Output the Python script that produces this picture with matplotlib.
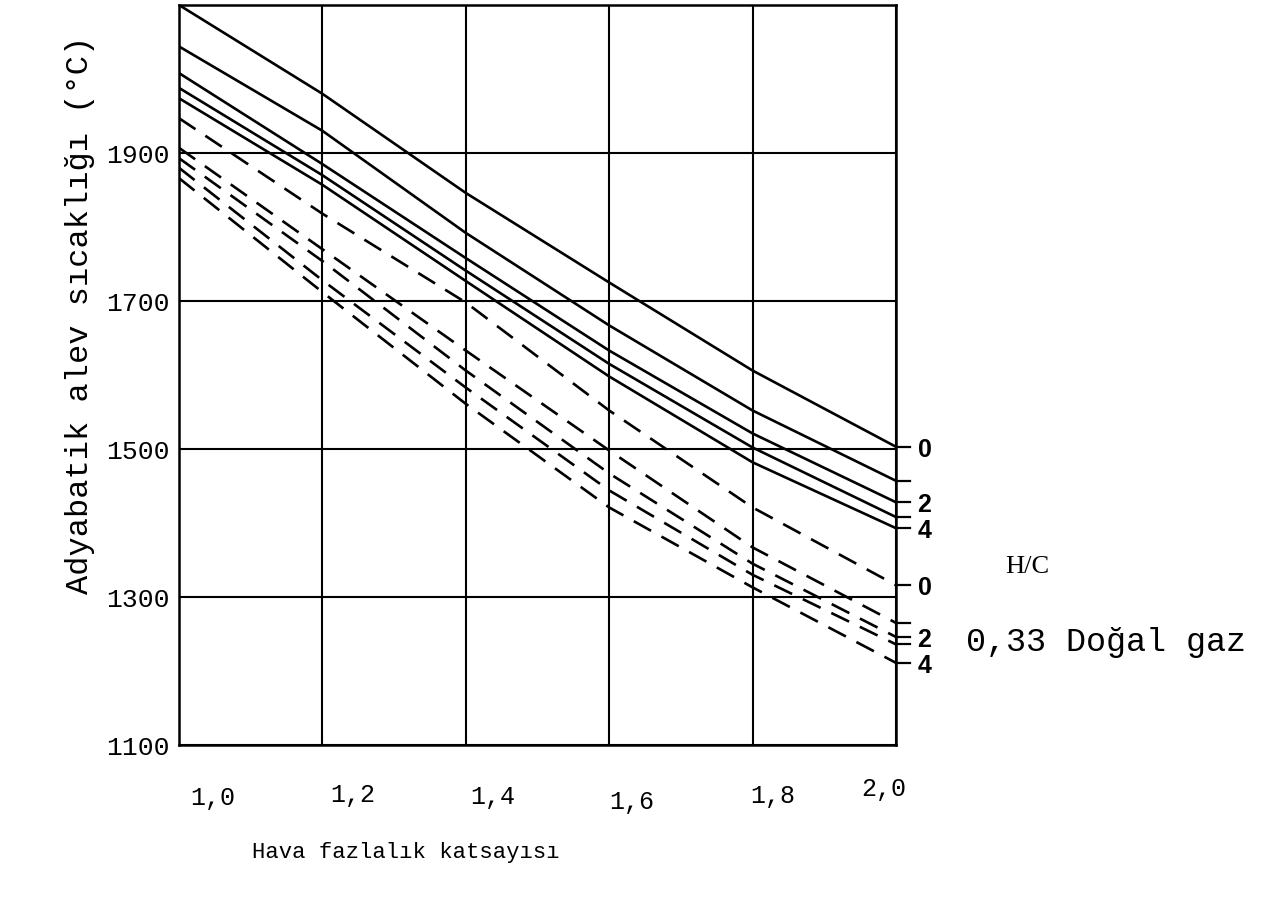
import matplotlib
matplotlib.use("Agg")
import matplotlib.pyplot as plt
import matplotlib.transforms as mtransforms

# ---- data ----
excess_air = [1.0, 1.2, 1.4, 1.6, 1.8, 2.0]
x_tick_labels = ["1,0", "1,2", "1,4", "1,6", "1,8", "2,0"]
y_ticks = [1100, 1300, 1500, 1700, 1900]
y_tick_labels = ["1100", "1300", "1500", "1700", "1900"]
hc_values = ["0", "1", "2", "3", "4"]

# solid family, H/C = 0..4
solid_hc0 = [2100, 1980, 1846, 1725, 1606, 1503]
solid_hc1 = [2044, 1930, 1792, 1667, 1552, 1457]
solid_hc2 = [2008, 1885, 1758, 1633, 1521, 1428]
solid_hc3 = [1988, 1870, 1741, 1615, 1502, 1408]
solid_hc4 = [1974, 1857, 1727, 1598, 1482, 1393]

# dashed family, H/C = 0..4
dashed_hc0 = [1947, 1818, 1698, 1552, 1421, 1316]
dashed_hc1 = [1907, 1770, 1633, 1498, 1367, 1265]
dashed_hc2 = [1893, 1754, 1606, 1467, 1345, 1246]
dashed_hc3 = [1880, 1728, 1583, 1444, 1330, 1236]
dashed_hc4 = [1866, 1712, 1561, 1421, 1313, 1211]

solid_series = [solid_hc0, solid_hc1, solid_hc2, solid_hc3, solid_hc4]
dashed_series = [dashed_hc0, dashed_hc1, dashed_hc2, dashed_hc3, dashed_hc4]

mono = ["Liberation Mono", "DejaVu Sans Mono"]

fig = plt.figure(figsize=(12.70, 9.01), dpi=100)
ax = fig.add_axes([179 / 1270, 1 - 745 / 901, (896 - 179) / 1270, (745 - 5) / 901])

ax.set_xlim(1.0, 2.0)
ax.set_ylim(1100, 2100)

# grid
ax.set_xticks(excess_air)
ax.set_yticks(y_ticks)
ax.grid(True, color="black", linewidth=1.5)
ax.set_axisbelow(True)
for sp in ax.spines.values():
    sp.set_linewidth(1.8)
    sp.set_color("black")
ax.tick_params(length=0)

lw = 1.9
for ys in solid_series:
    ax.plot(excess_air, ys, color="black", linewidth=lw, solid_capstyle="round",
            solid_joinstyle="round")
for ys in dashed_series:
    ax.plot(excess_air, ys, color="black", linewidth=lw, dashes=(7.5, 4.5))

# x tick labels (shifted like the original typewritten labels)
ax.set_xticklabels([])
x_offsets_px = [(34, 53), (30, 50), (27, 52), (23, 57), (20, 51), (-12, 44)]
for xv, lab, (dx, dy) in zip(excess_air, x_tick_labels, x_offsets_px):
    ax.annotate(lab, xy=(xv, 0), xycoords=("data", "axes fraction"),
                xytext=(dx * 0.72, -dy * 0.72), textcoords="offset points",
                ha="center", va="center", fontfamily=mono, fontsize=18)

ax.set_yticklabels(y_tick_labels, fontfamily=mono, fontsize=19)
ax.tick_params(axis="y", pad=7)

ax.set_xlabel("Hava fazlalık katsayısı", fontfamily=mono, fontsize=16)
ax.xaxis.set_label_coords(0.316, -0.131)
ax.set_ylabel("Adyabatik alev sıcaklığı (°C)", fontfamily=mono, fontsize=23)
ax.yaxis.set_label_coords(-0.117, 0.581)

# right-side H/C markers
trans = mtransforms.blended_transform_factory(ax.transAxes, ax.transData)
for series in (solid_series, dashed_series):
    for i, ys in enumerate(series):
        ax.plot([1.0, 1.02], [ys[-1], ys[-1]], color="black", linewidth=1.6,
                transform=trans, clip_on=False)
        if hc_values[i] in ("0", "2", "4"):
            ax.text(1.03, ys[-1] - 4, hc_values[i], transform=trans, ha="left",
                    va="center", fontsize=18, fontweight="bold",
                    fontfamily=["Liberation Sans", "DejaVu Sans"])

ax.text(1.153, 1340, "H/C", transform=trans, ha="left", va="center",
        fontsize=19, fontfamily=["Liberation Serif", "DejaVu Serif"])
ax.text(1.097, 1238, "0,33 Doğal gaz", transform=trans, ha="left", va="center",
        fontsize=24, fontfamily=mono)

fig.savefig("out.png", dpi=100, facecolor="white")
